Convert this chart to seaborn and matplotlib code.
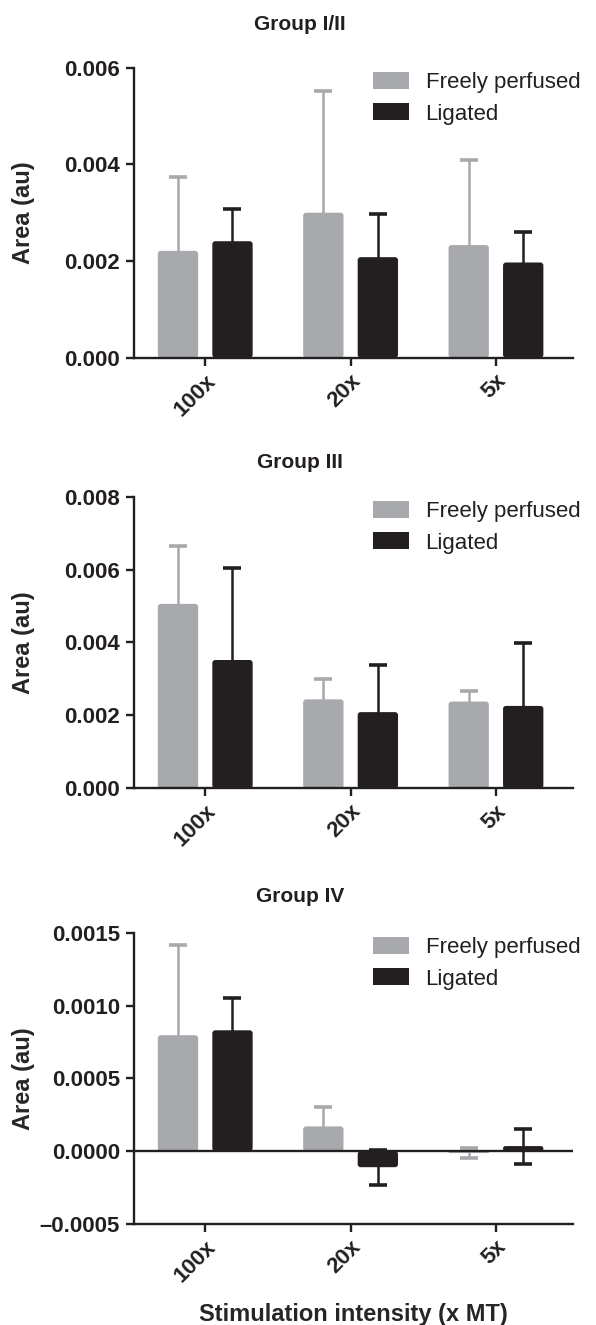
import numpy as np
import pandas as pd
import matplotlib
matplotlib.use("Agg")
import matplotlib.pyplot as plt
import matplotlib.ticker as mticker
from matplotlib.patches import FancyBboxPatch
import seaborn as sns

# ---------------- data ----------------
intensities = ["100x", "20x", "5x"]
conditions = ["Freely perfused", "Ligated"]
titles = ["Group I/II", "Group III", "Group IV"]

g12_fp = [0.00221, 0.00300, 0.00233]
g12_fp_err = [0.00153, 0.00251, 0.00177]
g12_lig = [0.00241, 0.00208, 0.00197]
g12_lig_err = [0.00067, 0.00089, 0.00063]

g3_fp = [0.00506, 0.00244, 0.00238]
g3_fp_err = [0.00160, 0.00055, 0.00030]
g3_lig = [0.00352, 0.00209, 0.00226]
g3_lig_err = [0.00253, 0.00128, 0.00172]

g4_fp = [0.000796, 0.000170, -0.000013]
g4_fp_err = [0.000619, 0.000130, 0.000037]
g4_lig = [0.000830, -0.000110, 0.000035]
g4_lig_err = [0.000225, 0.000120, 0.000120]

yticks1 = [0.000, 0.002, 0.004, 0.006]
yticks2 = [0.000, 0.002, 0.004, 0.006, 0.008]
yticks3 = [-0.0005, 0.0000, 0.0005, 0.0010, 0.0015]

# ---------------- style ----------------
sns.set_theme(style="ticks")
plt.rcParams["font.family"] = ["Liberation Sans", "DejaVu Sans"]
INK = "#231f20"
GRAY = "#a7a9ac"
plt.rcParams["axes.edgecolor"] = INK
plt.rcParams["text.color"] = INK
plt.rcParams["xtick.color"] = INK
plt.rcParams["ytick.color"] = INK

W, H = 596, 1325
fig = plt.figure(figsize=(W / 100, H / 100), dpi=100)

left = 134 / W
width = (573 - 134) / W
panels = [
    (g12_fp, g12_fp_err, g12_lig, g12_lig_err, yticks1, "%.3f", 67.7, 357.7, 24),
    (g3_fp, g3_fp_err, g3_lig, g3_lig_err, yticks2, "%.3f", 496.7, 788.3, 462),
    (g4_fp, g4_fp_err, g4_lig, g4_lig_err, yticks3, "%.4f", 932.7, 1224.0, 897),
]
XLIM = (-0.49, 2.53)


def fmt_factory(f):
    def _f(v, pos):
        s = f % v
        if v < 0:
            s = "\u2013" + s.lstrip("-")
        return s
    return _f


for i, (fp, fpe, lg, lge, yt, yf, ytop, ybot, ttl_y) in enumerate(panels):
    ax_h_px = ybot - ytop
    ax_w_px = 573 - 134
    ax = fig.add_axes([left, 1 - ybot / H, width, ax_h_px / H])
    df = pd.DataFrame({
        "intensity": intensities * 2,
        "condition": [conditions[0]] * 3 + [conditions[1]] * 3,
        "value": list(fp) + list(lg),
    })
    sns.barplot(data=df, x="intensity", y="value", hue="condition",
                order=intensities, hue_order=conditions,
                palette=[GRAY, INK], width=0.75, gap=0.26,
                errorbar=None, ax=ax, zorder=3, linewidth=0, saturation=1)

    # data units per pixel to keep rounded corners circular
    xpp = (XLIM[1] - XLIM[0]) / ax_w_px
    ypp = (yt[-1] - yt[0]) / ax_h_px
    errs = [fpe, lge]
    cols = [GRAY, INK]
    for cont, e, c in zip(ax.containers, errs, cols):
        xs = [p.get_x() + p.get_width() / 2 for p in cont.patches]
        vals = [p.get_y() + p.get_height() for p in cont.patches]
        ax.errorbar(xs, vals, yerr=e, fmt="none", ecolor=c, elinewidth=1.8,
                    capsize=6.5, capthick=2.6, zorder=2)
        for p in cont.patches:
            x0, y0, w, h = p.get_x(), p.get_y(), p.get_width(), p.get_height()
            ylo, yhi = min(y0, y0 + h), max(y0, y0 + h)
            r = min(3.0, abs(h) / ypp / 2.2)
            rp = FancyBboxPatch((x0, ylo), w, yhi - ylo,
                                boxstyle=f"round,pad=0,rounding_size={r * xpp}",
                                mutation_aspect=ypp / xpp,
                                facecolor=p.get_facecolor(), edgecolor="none",
                                zorder=3)
            ax.add_patch(rp)
            p.set_visible(False)

    ax.set_xlim(*XLIM)
    ax.set_ylim(yt[0], yt[-1])
    ax.set_yticks(yt)
    ax.yaxis.set_major_formatter(mticker.FuncFormatter(fmt_factory(yf)))
    if yt[0] < 0:
        ax.axhline(0, color=INK, lw=1.7, zorder=4)

    for s in ["top", "right"]:
        ax.spines[s].set_visible(False)
    for s in ["left", "bottom"]:
        ax.spines[s].set_linewidth(1.7)
        ax.spines[s].set_color(INK)
        ax.spines[s].set_zorder(5)
    ax.tick_params(axis="both", width=1.7, length=6, color=INK)
    ax.tick_params(axis="y", labelsize=16, pad=4)
    ax.tick_params(axis="x", labelsize=16, pad=3)
    for lab in ax.get_yticklabels():
        lab.set_fontweight("bold")
    for lab in ax.get_xticklabels():
        lab.set_fontweight("bold")
        lab.set_rotation(45)
        lab.set_ha("right")
        lab.set_va("top")
        lab.set_rotation_mode("anchor")

    ax.set_ylabel("Area (au)", fontsize=17, fontweight="bold")
    ax.yaxis.set_label_coords(-0.225, 0.5)
    if i == 2:
        ax.set_xlabel("Stimulation intensity (x MT)", fontsize=17,
                      fontweight="bold", labelpad=12)
    else:
        ax.set_xlabel("")

    handles, labels = ax.get_legend_handles_labels()
    ax.legend(handles, labels, loc="upper left", bbox_to_anchor=(0.535, 1.0),
              frameon=False, fontsize=16, handlelength=1.6, handleheight=0.8,
              handletextpad=0.75, labelspacing=0.45, borderaxespad=0,
              borderpad=0.2)

    fig.text(300 / W, 1 - ttl_y / H, titles[i], ha="center", va="center",
             fontsize=15, fontweight="bold")

fig.savefig("out.png", dpi=100)
